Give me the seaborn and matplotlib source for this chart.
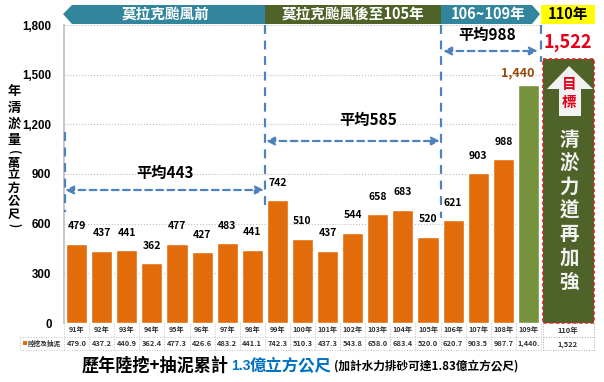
import pandas as pd
import seaborn as sns
import matplotlib.pyplot as plt
from matplotlib.patches import Polygon, Rectangle

# values
years = ['91年', '92年', '93年', '94年', '95年', '96年', '97年', '98年', '99年', '100年',
         '101年', '102年', '103年', '104年', '105年', '106年', '107年', '108年', '109年']
values = [479.0, 437.2, 440.9, 362.4, 477.3, 426.6, 483.2, 441.1, 742.3, 510.3,
          437.3, 543.8, 658.0, 683.4, 520.0, 620.7, 903.5, 987.7, 1440.0]
bar_labels = ['479', '437', '441', '362', '477', '427', '483', '441', '742', '510',
              '437', '544', '658', '683', '520', '621', '903', '988', '1,440']
table_labels = ['479.0', '437.2', '440.9', '362.4', '477.3', '426.6', '483.2', '441.1', '742.3', '510.3',
                '437.3', '543.8', '658.0', '683.4', '520.0', '620.7', '903.5', '987.7', '1,440.']
y_ticks = [0, 300, 600, 900, 1200, 1500, 1800]
target_label = '1,522'

ORANGE = '#E36C0A'
GREEN = '#76923C'
DARK = '#4F6228'
TEAL = '#31859C'
BLUE = '#4F81BD'
LATIN = ['Liberation Sans', 'DejaVu Sans']

sns.set_theme(style='white')
plt.rcParams['font.family'] = ['Noto Sans CJK TC', 'DejaVu Sans']

W, H = 604, 382
fig = plt.figure(figsize=(W / 100, H / 100), dpi=100)

# chart area, 64..541 px wide, 25..323 px down
ax = fig.add_axes([64 / W, 1 - 323 / H, (541 - 64) / W, 298 / H])
dtf = pd.DataFrame({'year': years, 'value': values})
colors = [ORANGE] * 18 + [GREEN]
sns.barplot(data=dtf, x='year', y='value', hue='year', palette=colors, legend=False,
            width=0.84, saturation=1, ax=ax)
ax.set_xlim(-0.5, 18.5)
ax.set_ylim(0, 1800)
ax.set_yticks(y_ticks)
ax.set_yticklabels([f'{v:,}' for v in y_ticks], fontsize=8.3, fontweight='bold', color='black',
                   family=LATIN)
ax.set_xticks([])
ax.set(xlabel=None, ylabel=None)
ax.tick_params(axis='y', length=0, pad=9)
ax.yaxis.grid(True, color='#BFBFBF', linestyle=':', linewidth=0.8)
ax.set_axisbelow(True)
sns.despine(ax=ax, top=True, right=True, bottom=True)
ax.spines['left'].set_color('#BFBFBF')
ax.spines['left'].set_linewidth(1.2)

for i, v in enumerate(values):
    if i == 18:
        ax.annotate(bar_labels[i], (i, v), xytext=(-8, 4), textcoords='offset points', ha='center',
                    va='bottom', fontsize=9, fontweight='bold', color='#984807')
    else:
        ax.annotate(bar_labels[i], (i, v), xytext=(0, 9), textcoords='offset points', ha='center',
                    va='bottom', fontsize=7.5, fontweight='bold', color='black')

# overlay in pixel coordinates for banners, arrows, table
ov = fig.add_axes([0, 0, 1, 1], facecolor='none')
ov.set_xlim(0, W)
ov.set_ylim(H, 0)
ov.axis('off')

ov.add_patch(Polygon([(63, 14), (72, 5), (265, 5), (265, 24), (72, 24)], color=TEAL, lw=0))
ov.add_patch(Rectangle((265, 5), 176, 19, color=DARK, lw=0))
ov.add_patch(Polygon([(441, 5), (532, 5), (540, 14), (532, 24), (441, 24)], color=TEAL, lw=0))
ov.add_patch(Rectangle((541, 5), 54, 19, color='#FFFF00', lw=0))
ov.text(165, 14, '莫拉克颱風前', color='white', fontsize=10.5, fontweight='bold', ha='center', va='center')
ov.text(353, 14, '莫拉克颱風後至105年', color='white', fontsize=10.5, fontweight='bold', ha='center', va='center')
ov.text(488, 14, '106~109年', color='white', fontsize=10.5, fontweight='bold', ha='center', va='center')
ov.text(568, 14, '110年', color='black', fontsize=10.5, fontweight='bold', ha='center', va='center')

# period dividers and average arrows
for x, y0, y1 in [(65, 132, 212), (265, 25, 205), (441, 25, 218), (541, 25, 62)]:
    ov.plot([x, x], [y0, y1], color=BLUE, lw=1.6, ls=(0, (4, 3)))
for x0, x1, y in [(65, 264, 190), (266, 440, 141), (443, 538, 51)]:
    ov.annotate('', xy=(x1, y), xytext=(x0, y),
                arrowprops=dict(arrowstyle='<|-|>', color=BLUE, lw=1.6, ls=(0, (3, 2)), shrinkA=0, shrinkB=0))
ov.text(165, 173, '平均443', fontsize=11, fontweight='bold', ha='center', va='center', color='black')
ov.text(368, 120, '平均585', fontsize=11, fontweight='bold', ha='center', va='center', color='black')
ov.text(487, 35, '平均988', fontsize=11, fontweight='bold', ha='center', va='center', color='black')

# target box for 110
ov.text(568, 42, target_label, color='#E3001B', fontsize=13, fontweight='bold', ha='center', va='center')
ov.add_patch(Rectangle((543, 59), 51, 264, facecolor=DARK, edgecolor='#D8232A', lw=1.2, ls=(0, (2, 1.5))))
ov.add_patch(Polygon([(569, 66), (547, 89), (559, 89), (559, 116), (581, 116), (581, 89), (593, 89)],
                     color='#F2F2F2', lw=0))
ov.text(569, 84, '目', color='#E3001B', fontsize=10.5, fontweight='bold', ha='center', va='center')
ov.text(569, 102, '標', color='#E3001B', fontsize=10.5, fontweight='bold', ha='center', va='center')
for i, ch in enumerate('清淤力道再加強'):
    ov.text(569, 140 + i * 23.7, ch, color='#F2F2F2', fontsize=14, fontweight='bold', ha='center', va='center')

# y title, stacked
for ch, y in zip('年清淤量', [91, 108, 124, 140]):
    ov.text(14, y, ch, fontsize=9.5, fontweight='bold', ha='center', va='center', color='black')
for ch, y in zip('萬立方公尺', [163, 175, 188, 201, 214]):
    ov.text(14, y, ch, fontsize=8.8, fontweight='bold', ha='center', va='center', color='black')
ov.text(14, 152, '(', fontsize=8, fontweight='bold', rotation=-90, ha='center', va='center', color='black')
ov.text(14, 225, ')', fontsize=8, fontweight='bold', rotation=-90, ha='center', va='center', color='black')

# data table under the chart
step = (541 - 64) / 19
grid = dict(color='#BFBFBF', lw=0.7, ls=':')
ov.plot([64, 541], [337, 337], **grid)
ov.plot([20, 541], [350, 350], **grid)
ov.plot([20, 64], [337, 337], **grid)
ov.plot([20, 20], [337, 350], **grid)
for i in range(20):
    x = 64 + i * step
    ov.plot([x, x], [323, 350], **grid)
for i in range(19):
    x = 64 + (i + 0.5) * step
    ov.text(x, 329.5, years[i], fontsize=5.2, fontweight='bold', ha='center', va='center', color='#333333')
    ov.text(x, 343.5, table_labels[i], fontsize=5.4, fontweight='bold', ha='center', va='center', color='#333333')
ov.add_patch(Rectangle((23, 341), 3.5, 3.5, color=ORANGE, lw=0))
ov.text(28, 343.5, '陸挖及抽泥', fontsize=4.8, fontweight='bold', ha='left', va='center', color='#333333')
ov.add_patch(Rectangle((543, 323), 51, 27, fill=False, edgecolor='#A6A6A6', lw=0.7, ls=':'))
ov.plot([543, 594], [337, 337], color='#A6A6A6', lw=0.7, ls=':')
ov.text(568, 330, '110年', fontsize=5.4, fontweight='bold', ha='center', va='center', color='#333333')
ov.text(568, 344, target_label, fontsize=5.4, fontweight='bold', ha='center', va='center', color='#333333')

# bottom line
ov.text(82, 366, '歷年陸挖+抽泥累計', fontsize=12.3, fontweight='bold', ha='left', va='center', color='black')
ov.text(231, 366, '1.3', fontsize=10, fontweight='bold', ha='left', va='center', color='#0070C0', family=LATIN)
ov.text(250, 366, '億立方公尺', fontsize=11.8, fontweight='bold', ha='left', va='center', color='#0070C0')
ov.text(334, 366, '(加計水力排砂可達1.83億立方公尺)', fontsize=8.4, fontweight='bold', ha='left', va='center', color='black')

fig.savefig('out.png', dpi=100)
